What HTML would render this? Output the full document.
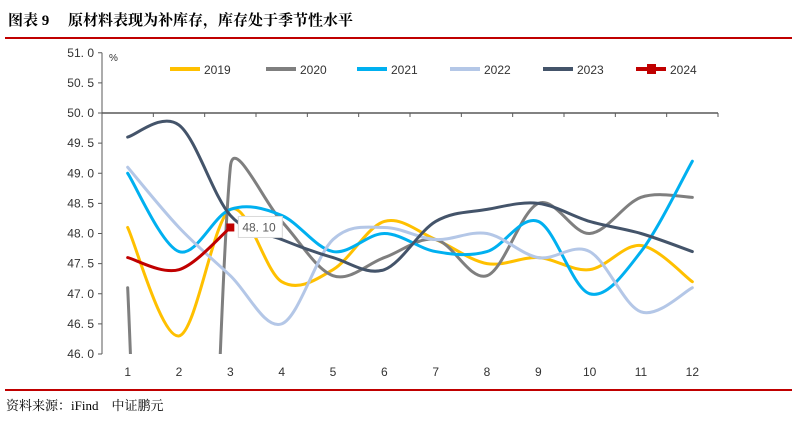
<!DOCTYPE html>
<html><head><meta charset="utf-8"><style>
html,body{margin:0;padding:0;width:800px;height:422px;background:#fff;font-family:"Liberation Sans","Noto Sans CJK SC",sans-serif;overflow:hidden}
#wrap{position:relative;width:800px;height:422px;overflow:hidden}
svg{display:block;position:absolute;left:0;top:0}
</style></head><body>
<div id="wrap">
<svg id="svg" width="800" height="422" xmlns="http://www.w3.org/2000/svg">
<text x="8" y="25" font-size="15" font-weight="bold" font-family="'Liberation Serif','Noto Serif CJK SC',serif">图表 9　 原材料表现为补库存，库存处于季节性水平</text>
<rect x="5" y="37" width="787" height="2" fill="#c00000"/>
<rect x="5" y="389" width="787" height="2" fill="#c00000"/>
<text x="6" y="410" font-size="13" font-family="'Liberation Serif','Noto Serif CJK SC',serif">资料来源：iFind　中证鹏元</text>
<text x="109" y="61" font-size="10" fill="#333">%</text>
<defs><clipPath id="pc"><rect x="102" y="53" width="620" height="301"/></clipPath></defs>
<g id="axes"></g>
<g id="series" clip-path="url(#pc)"></g>
<g id="legend"></g>
</svg>
</div>
<script>
const months=["1","2","3","4","5","6","7","8","9","10","11","12"];
const yTicks=[46.0,46.5,47.0,47.5,48.0,48.5,49.0,49.5,50.0,50.5,51.0];
const s2019=[48.1,46.3,48.4,47.2,47.4,48.2,47.9,47.5,47.6,47.4,47.8,47.2];
const s2020=[47.1,29.6,49.1,48.2,47.3,47.6,47.9,47.3,48.5,48.0,48.6,48.6];
const s2021=[49.0,47.7,48.4,48.3,47.7,48.0,47.7,47.7,48.2,47.0,47.7,49.2];
const s2022=[49.1,48.1,47.3,46.5,47.9,48.1,47.9,48.0,47.6,47.7,46.7,47.1];
const s2023=[49.6,49.8,48.3,47.9,47.6,47.4,48.2,48.4,48.5,48.2,48.0,47.7];
const s2024=[47.6,47.4,48.1];
const seriesNames=["2019","2020","2021","2022","2023","2024"];
const seriesData=[s2019,s2020,s2021,s2022,s2023,s2024];
const colors=["#ffc000","#7f7f7f","#00b0f0","#b4c7e7","#44546a","#c00000"];
const NS="http://www.w3.org/2000/svg";
const L=102,R=718,Y0=354,PPU=60.25,CROSS=50;
const bw=(R-L)/months.length;
const xs=i=>L+bw*(i+0.5);
const ys=v=>Y0-(v-46)*PPU;
function mk(tag,attrs,parent){const e=document.createElementNS(NS,tag);for(const k in attrs)e.setAttribute(k,attrs[k]);parent.appendChild(e);return e;}
const ax=document.getElementById('axes');
const yl=mk('line',{x1:L,y1:ys(51),x2:L,y2:Y0,stroke:'#595959','stroke-width':1},ax);


yTicks.forEach(t=>{
  const tk=mk('line',{x1:L-4,y1:ys(t),x2:L,y2:ys(t),stroke:'#595959'},ax);
  
  
  const tx=mk('text',{x:L-8,y:ys(t)+4,'text-anchor':'end','font-size':12,fill:'#333'},ax);
  tx.textContent=t.toFixed(1).replace('.','. ');
  
  
});
const xl=mk('line',{x1:L,y1:ys(CROSS),x2:R,y2:ys(CROSS),stroke:'#595959','stroke-width':1.5},ax);


for(let i=0;i<=months.length;i++){
  const tk=mk('line',{x1:L+bw*i,y1:ys(CROSS),x2:L+bw*i,y2:ys(CROSS)+4,stroke:'#595959'},ax);
  
  
}
months.forEach((m,i)=>{
  const tx=mk('text',{x:xs(i),y:376,'text-anchor':'middle','font-size':12,fill:'#333'},ax);
  tx.textContent=m;
  
  
});
const dist=(a,b)=>Math.hypot(a[0]-b[0],a[1]-b[1]);
function smooth(pts){
  let d=`M${pts[0][0]},${pts[0][1]}`;
  for(let i=0;i<pts.length-1;i++){
    const p0=pts[i-1]||pts[i],p1=pts[i],p2=pts[i+1],p3=pts[i+2]||p2;
    const d01=dist(p0,p1),d12=dist(p1,p2),d23=dist(p2,p3);
    const f1=(d01+d12>0?Math.min(1,3*d12/(d01+d12)):0)/6;
    const f2=(d12+d23>0?Math.min(1,3*d12/(d12+d23)):0)/6;
    const c1=[p1[0]+(p2[0]-p0[0])*f1,p1[1]+(p2[1]-p0[1])*f1];
    const c2=[p2[0]-(p3[0]-p1[0])*f2,p2[1]-(p3[1]-p1[1])*f2];
    d+=` C${c1[0]},${c1[1]} ${c2[0]},${c2[1]} ${p2[0]},${p2[1]}`;
  }
  return d;
}
const sg=document.getElementById('series');
seriesData.forEach((arr,k)=>{
  const p=mk('path',{d:smooth(arr.map((v,i)=>[xs(i),ys(v)])),fill:'none',stroke:colors[k],'stroke-width':3,'stroke-linecap':'round'},sg);
  
  
});
const last=s2024.length-1;
const mkr=mk('rect',{x:xs(last)-4,y:ys(s2024[last])-4,width:8,height:8,fill:'#c00000'},sg);


const ax2=document.getElementById('legend');
const lb=mk('rect',{x:xs(last)+8,y:ys(s2024[last])-11,width:44,height:21,fill:'#fff',stroke:'#d9d9d9'},ax2);


const lt=mk('text',{x:xs(last)+12,y:ys(s2024[last])+4,'font-size':12,fill:'#595959'},ax2);
lt.textContent=s2024[last].toFixed(2).replace('.','. ');


const legX=[170,266,357,450,543,636];
seriesNames.forEach((n,k)=>{
  const ln=mk('line',{x1:legX[k],y1:69,x2:legX[k]+30,y2:69,stroke:colors[k],'stroke-width':4},ax2);
  
  
  if(k===5){const m=mk('rect',{x:legX[k]+11,y:64,width:9,height:10,fill:colors[k]},ax2);
    
    }
  const t=mk('text',{x:legX[k]+34,y:74,'font-size':12,fill:'#333'},ax2);
  t.textContent=n;
  
  
});
</script>
</body></html>
